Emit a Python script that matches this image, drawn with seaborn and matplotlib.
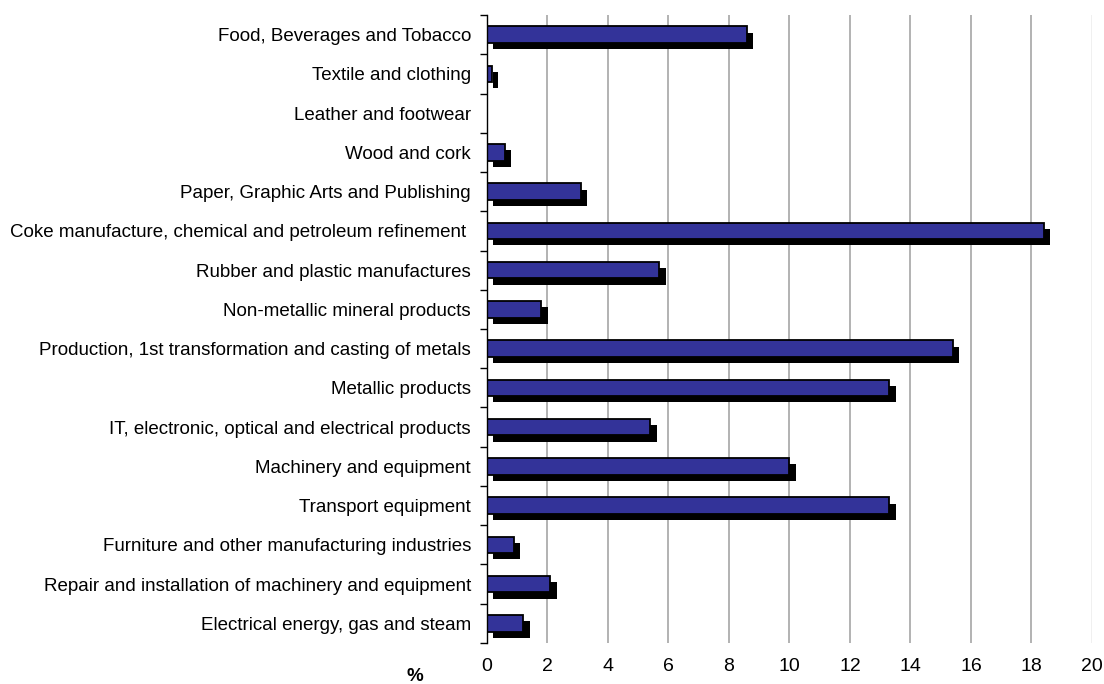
import matplotlib.pyplot as plt
import matplotlib.patheffects as pe
import numpy as np
import pandas as pd
import seaborn as sns

# Share by industry (%)
sectors = [
    'Food, Beverages and Tobacco',
    'Textile and clothing',
    'Leather and footwear',
    'Wood and cork',
    'Paper, Graphic Arts and Publishing',
    'Coke manufacture, chemical and petroleum refinement ',
    'Rubber and plastic manufactures',
    'Non-metallic mineral products',
    'Production, 1st transformation and casting of metals',
    'Metallic products',
    'IT, electronic, optical and electrical products',
    'Machinery and equipment',
    'Transport equipment',
    'Furniture and other manufacturing industries',
    'Repair and installation of machinery and equipment',
    'Electrical energy, gas and steam',
]
share = [8.6, 0.17, 0.0, 0.58, 3.1, 18.4, 5.7, 1.8, 15.4, 13.3, 5.4, 10.0, 13.3, 0.88, 2.1, 1.2]
x_ticks = [0, 2, 4, 6, 8, 10, 12, 14, 16, 18, 20]

df = pd.DataFrame({'sector': sectors, 'share': share})

sns.set_style('white')
plt.rcParams['font.family'] = ['Liberation Sans', 'DejaVu Sans']
plt.rcParams['text.color'] = 'black'
plt.rcParams['xtick.color'] = 'black'
plt.rcParams['ytick.color'] = 'black'

fig = plt.figure(figsize=(11.04, 6.84), dpi=100)
ax = fig.add_axes([0.4411, 0.06, 0.548, 0.918])

sns.barplot(data=df, y='sector', x='share', orient='h', color='#333399',
            edgecolor='black', linewidth=1.3, width=0.42, saturation=1, ax=ax)

# drop shadow behind each bar
for p in ax.patches:
    p.set_path_effects([
        pe.SimplePatchShadow(offset=(4.5, -4.5), shadow_rgbFace='black', alpha=1.0),
        pe.Normal(),
    ])

ax.set_xlim(0, 20)
ax.set_xticks(x_ticks)
ax.set_xticklabels([str(t) for t in x_ticks], fontsize=14)
ax.xaxis.grid(True, color='#a6a6a6', linewidth=1.2)
ax.get_xgridlines()[-1].set_color('#eeeeee')
ax.set_axisbelow(True)
ax.tick_params(axis='x', length=0, pad=11, labelcolor='black')

n = len(sectors)
ax.set_yticks(np.arange(-0.5, n, 1), minor=True)
ax.tick_params(axis='y', which='major', length=0, pad=11.5, labelsize=13.5, labelcolor='black')
ax.tick_params(axis='y', which='minor', length=5, width=1, color='black', left=True)
ax.set_ylabel('')
ax.set_xlabel('')

for s in ['top', 'right', 'bottom']:
    ax.spines[s].set_visible(False)
ax.spines['left'].set_color('black')
ax.spines['left'].set_linewidth(1.0)

ax.text(-0.119, -0.053, '%', transform=ax.transAxes, ha='center', va='center',
        fontsize=13.5, fontweight='bold')

plt.savefig('out.png', dpi=100)
